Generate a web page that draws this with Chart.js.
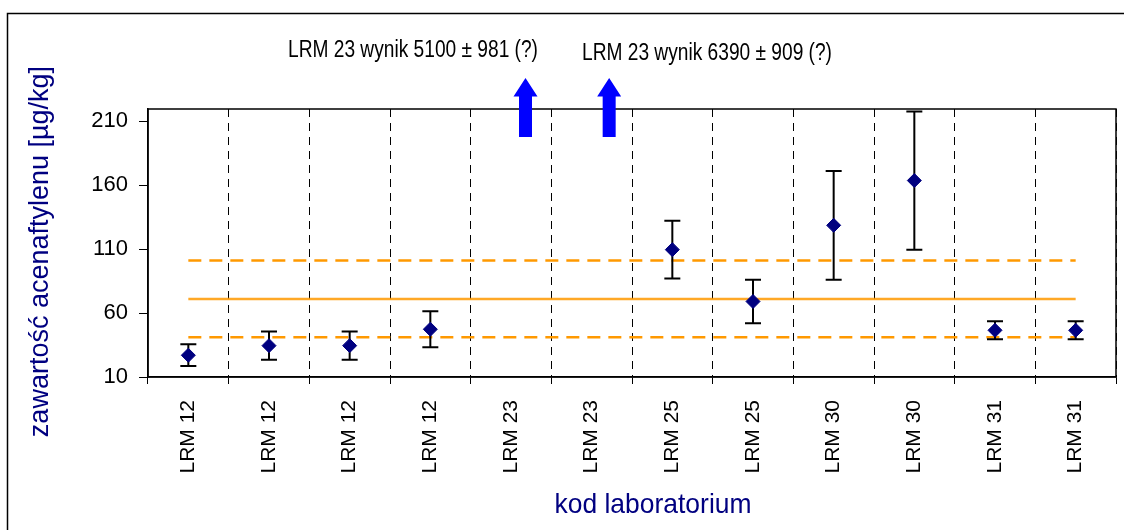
<!DOCTYPE html>
<html><head><meta charset="utf-8">
<script src="https://cdn.jsdelivr.net/npm/chart.js@4/dist/chart.umd.min.js"></script>
<style>html,body{margin:0;padding:0;background:#fff}#wrap{width:1124px;height:530px;position:relative}</style>
</head><body><div id="wrap"><canvas id="c" width="1124" height="530"></canvas></div>
<script>
// ---- data ----
const categories = ['LRM 12','LRM 12','LRM 12','LRM 12','LRM 23','LRM 23','LRM 25','LRM 25','LRM 30','LRM 30','LRM 31','LRM 31'];
const results = [27, 34.5, 34.5, 47.3, null, null, 109.5, 69, 128.5, 163.5, 46.5, 46.5];
const uncertainty = [8.5, 11, 11, 14, null, null, 22.5, 17, 42.5, 54, 7, 7];
const assignedValue = [71, 71, 71, 71, 71, 71, 71, 71, 71, 71, 71, 71];
const upperLimit = [101, 101, 101, 101, 101, 101, 101, 101, 101, 101, 101, 101];
const lowerLimit = [41, 41, 41, 41, 41, 41, 41, 41, 41, 41, 41, 41];
const yTickValues = [10, 60, 110, 160, 210];
const yMin = 10;
const yMax = 219.4;
const yTitle = 'zawartość acenaftylenu [µg/kg]';
const xTitle = 'kod laboratorium';
const offScaleIndex = [4, 5];
const offScaleNotes = ['LRM 23 wynik 5100 ± 981 (?)', 'LRM 23 wynik 6390 ± 909 (?)'];

const FONT = '"Liberation Sans", Arial, sans-serif';

const framePlugin = {
  id: 'frame',
  beforeDraw(chart) {
    const c = chart.ctx;
    c.save();
    c.fillStyle = '#fff';
    c.fillRect(0, 0, chart.width, chart.height);
    c.strokeStyle = '#000';
    c.lineWidth = 1.5;
    c.beginPath();
    c.moveTo(7.5, chart.height + 2);
    c.lineTo(7.5, 13.5);
    c.lineTo(chart.width + 2, 13.5);
    c.stroke();
    c.restore();
  },
  beforeDatasetDraw(chart, args) {
    if (args.index !== 0) return;
    const c = chart.ctx, xs = chart.scales.x, ys = chart.scales.y;
    c.save();
    c.strokeStyle = '#000';
    c.lineWidth = 2;
    results.forEach((v, i) => {
      if (v == null || uncertainty[i] == null) return;
      const x = xs.getPixelForValue(i);
      const yt = ys.getPixelForValue(v + uncertainty[i]);
      const yb = ys.getPixelForValue(v - uncertainty[i]);
      c.beginPath();
      c.moveTo(x, yt); c.lineTo(x, yb);
      c.moveTo(x - 8, yt); c.lineTo(x + 8, yt);
      c.moveTo(x - 8, yb); c.lineTo(x + 8, yb);
      c.stroke();
    });
    c.restore();
  },
  afterDraw(chart) {
    const c = chart.ctx, a = chart.chartArea, xs = chart.scales.x;
    c.save();
    c.strokeStyle = '#000';
    c.lineWidth = 1.5;
    c.strokeRect(a.left, a.top, a.right - a.left, a.bottom - a.top);
    // arrows
    const offs = [14.5, 17.5];
    c.fillStyle = '#0000FF';
    offScaleIndex.forEach((idx, k) => {
      const x = xs.getPixelForValue(idx) + offs[k];
      const top = a.top - 31, headB = a.top - 12.5, bot = a.top + 28;
      c.beginPath();
      c.moveTo(x, top);
      c.lineTo(x + 12, headB);
      c.lineTo(x + 6.5, headB);
      c.lineTo(x + 6.5, bot);
      c.lineTo(x - 6.5, bot);
      c.lineTo(x - 6.5, headB);
      c.lineTo(x - 12, headB);
      c.closePath();
      c.fill();
    });
    // notes
    c.fillStyle = '#000';
    c.textBaseline = 'alphabetic';
    c.textAlign = 'left';
    c.font = '23px ' + FONT;
    c.fillText(offScaleNotes[0], 288, 57, 250);
    c.fillText(offScaleNotes[1], 582, 59.5, 250);
    // axis titles
    c.fillStyle = '#000080';
    c.font = '28px ' + FONT;
    c.textAlign = 'center';
    c.fillText(xTitle, 653, 513, 197);
    c.translate(48, 251.5);
    c.rotate(-Math.PI / 2);
    c.font = '27px ' + FONT;
    c.fillText(xTitle === '' ? '' : yTitle, 0, 0, 373);
    c.restore();
  }
};

new Chart(document.getElementById('c'), {
  type: 'line',
  data: {
    labels: categories,
    datasets: [
      { label: 'wynik', data: results, showLine: false, pointStyle: 'rectRot', pointRadius: 7, pointHoverRadius: 7,
        pointBackgroundColor: '#000080', pointBorderColor: '#000080', pointBorderWidth: 1, borderWidth: 0, order: 0 },
      { label: 'wartość przypisana', data: assignedValue, borderColor: 'rgba(255,153,0,0.85)', borderWidth: 2.5, pointRadius: 0, order: 1 },
      { label: 'górna granica', data: upperLimit, borderColor: '#FF9900', borderWidth: 2.5, borderDash: [13, 8], pointRadius: 0, order: 2 },
      { label: 'dolna granica', data: lowerLimit, borderColor: '#FF9900', borderWidth: 2.5, borderDash: [13, 8], pointRadius: 0, order: 3 }
    ]
  },
  options: {
    responsive: false, animation: false, devicePixelRatio: 1,
    layout: { padding: { top: 109, right: 6, left: 0, bottom: 0 } },
    plugins: { legend: { display: false }, tooltip: { enabled: false } },
    scales: {
      x: {
        type: 'category', offset: true,
        grid: { offset: true, color: '#000', lineWidth: 1, drawTicks: true, tickLength: 7, tickColor: '#000', tickBorderDash: [] },
        border: { display: true, color: '#000', width: 1.5, dash: [8, 6] },
        ticks: { autoSkip: false, minRotation: 90, maxRotation: 90, padding: 16, color: '#000', font: { family: FONT, size: 21 } },
        afterFit(s) { s.height = 153; }
      },
      y: {
        min: yMin, max: yMax,
        afterBuildTicks(s) { s.ticks = yTickValues.map(v => ({ value: v })); },
        grid: { drawOnChartArea: false, drawTicks: true, tickLength: 9, color: '#000' },
        border: { color: '#000', width: 1.5 },
        ticks: { padding: 11, color: '#000', font: { family: FONT, size: 22 } },
        afterFit(s) { s.width = 148; }
      }
    }
  },
  plugins: [framePlugin]
});
</script>
</body></html>
